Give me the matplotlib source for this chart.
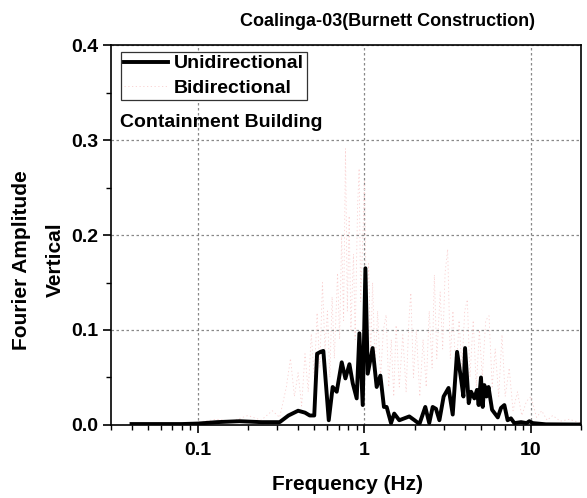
import numpy as np
import matplotlib
matplotlib.use('Agg')
import matplotlib.pyplot as plt
from matplotlib.ticker import FixedLocator, MultipleLocator, FuncFormatter, LogLocator, NullFormatter

plt.rcParams['font.family'] = ['Liberation Sans', 'DejaVu Sans']
plt.rcParams['font.weight'] = 'bold'

# Unidirectional response
uni_freq = [0.04, 0.06, 0.08, 0.10, 0.13, 0.178, 0.24, 0.31, 0.35, 0.40, 0.44, 0.47,
            0.50, 0.52, 0.545, 0.567, 0.611, 0.645, 0.682, 0.731, 0.769, 0.813, 0.851,
            0.899, 0.933, 0.977, 1.014, 1.047, 1.12, 1.185, 1.247, 1.31, 1.36, 1.445,
            1.51, 1.62, 1.86, 2.0, 2.14, 2.32, 2.45, 2.57, 2.69, 2.82, 2.99, 3.20, 3.39,
            3.60, 3.80, 3.93, 4.02, 4.23, 4.37, 4.57, 4.74, 4.85, 5.01, 5.13, 5.25, 5.41,
            5.56, 5.84, 6.32, 6.61, 6.92, 7.24, 7.58, 7.94, 8.72, 9.42, 9.77, 10.25,
            12.3, 20.0]
uni_amp = [0.001, 0.001, 0.001, 0.0015, 0.003, 0.004, 0.003, 0.003, 0.010, 0.015, 0.013,
           0.010, 0.010, 0.075, 0.077, 0.078, 0.005, 0.040, 0.035, 0.066, 0.049, 0.064,
           0.044, 0.028, 0.0965, 0.021, 0.165, 0.054, 0.081, 0.040, 0.052, 0.019, 0.019,
           0.002, 0.012, 0.005, 0.009, 0.005, 0.001, 0.019, 0.002, 0.019, 0.017, 0.005,
           0.030, 0.039, 0.011, 0.077, 0.049, 0.030, 0.081, 0.023, 0.035, 0.028, 0.037,
           0.021, 0.050, 0.019, 0.042, 0.030, 0.040, 0.016, 0.008, 0.018, 0.021, 0.005,
           0.007, 0.002, 0.003, 0.002, 0.004, 0.002, 0.0007, 0.0005]

# Bidirectional response (faint dotted curve, estimated)
bi_freq = [0.04, 0.06, 0.08, 0.10, 0.13, 0.16, 0.20, 0.24, 0.28, 0.31, 0.34, 0.36, 0.38,
           0.40, 0.42, 0.44, 0.46, 0.48, 0.50, 0.52, 0.54, 0.56, 0.58, 0.60, 0.62, 0.64,
           0.66, 0.69, 0.71, 0.73, 0.75, 0.77, 0.79, 0.81, 0.83, 0.86, 0.88, 0.91, 0.93,
           0.95, 0.98, 1.00, 1.03, 1.06, 1.09, 1.12, 1.16, 1.20, 1.25, 1.30, 1.35, 1.40,
           1.45, 1.50, 1.55, 1.62, 1.70, 1.78, 1.85, 1.90, 1.97, 2.05, 2.15, 2.25, 2.35,
           2.45, 2.55, 2.63, 2.72, 2.85, 2.95, 3.05, 3.16, 3.28, 3.40, 3.55, 3.70, 3.85,
           4.00, 4.15, 4.30, 4.50, 4.70, 4.90, 5.10, 5.35, 5.60, 5.85, 6.10, 6.40, 6.70,
           7.00, 7.40, 7.80, 8.30, 8.80, 9.40, 10.0, 10.8, 11.6, 12.5, 13.5, 15.0, 17.0,
           20.0]
bi_amp = [0.001, 0.002, 0.001, 0.003, 0.006, 0.004, 0.010, 0.005, 0.015, 0.008, 0.040,
          0.070, 0.030, 0.055, 0.020, 0.075, 0.035, 0.096, 0.050, 0.118, 0.060, 0.150,
          0.080, 0.120, 0.050, 0.135, 0.070, 0.160, 0.090, 0.200, 0.110, 0.291, 0.120,
          0.220, 0.100, 0.180, 0.090, 0.230, 0.270, 0.130, 0.200, 0.256, 0.120, 0.170,
          0.070, 0.150, 0.060, 0.120, 0.050, 0.100, 0.116, 0.040, 0.090, 0.030, 0.105,
          0.040, 0.095, 0.035, 0.110, 0.139, 0.050, 0.100, 0.030, 0.090, 0.040, 0.120,
          0.060, 0.158, 0.070, 0.140, 0.080, 0.160, 0.185, 0.070, 0.120, 0.050, 0.110,
          0.060, 0.120, 0.132, 0.050, 0.110, 0.040, 0.100, 0.050, 0.110, 0.115, 0.040,
          0.080, 0.030, 0.095, 0.030, 0.060, 0.015, 0.035, 0.010, 0.025, 0.030, 0.008,
          0.015, 0.005, 0.010, 0.004, 0.006, 0.002]

x_ticks = [0.1, 1, 10]
x_ticklabels = ['0.1', '1', '10']

fig = plt.figure(figsize=(5.87, 4.98), dpi=100)
ax = fig.add_axes([0.1886, 0.1466, 0.8014, 0.763])

ax.plot(bi_freq, bi_amp, color='#f9cfcf', lw=0.6, ls=(0, (1.5, 3)),
        label='Bidirectional', zorder=2)
ax.plot(uni_freq, uni_amp, color='black', lw=2.8, solid_joinstyle='round',
        label='Unidirectional', zorder=3)

ax.set_xscale('log')
ax.set_xlim(0.03, 20)
ax.set_ylim(0, 0.4)

ax.xaxis.set_major_locator(FixedLocator(x_ticks))
ax.xaxis.set_major_formatter(FuncFormatter(lambda v, p: x_ticklabels[x_ticks.index(v)] if v in x_ticks else ''))
ax.xaxis.set_minor_locator(LogLocator(base=10, subs=np.arange(2, 10)))
ax.xaxis.set_minor_formatter(NullFormatter())
ax.yaxis.set_major_locator(MultipleLocator(0.1))
ax.yaxis.set_minor_locator(MultipleLocator(0.05))
ax.yaxis.set_major_formatter(FuncFormatter(lambda v, p: f'{v:.1f}'))

ax.tick_params(which='major', direction='out', length=6, width=1.2,
               labelsize=14, pad=3, top=False, right=False)
ax.tick_params(axis='x', which='major', pad=6)
ax.tick_params(which='minor', direction='out', length=3.5, width=1.0,
               top=False, right=False)
for lab in ax.get_xticklabels() + ax.get_yticklabels():
    lab.set_fontweight('bold')

for sp in ax.spines.values():
    sp.set_linewidth(1.2)

ax.grid(True, which='major', color='#888888', ls=(0, (2, 2)), lw=0.9)
ax.set_axisbelow(True)

handles, labels = ax.get_legend_handles_labels()
leg = ax.legend(handles[::-1], labels[::-1], loc='upper left',
                bbox_to_anchor=(0.021, 0.982), borderaxespad=0, fancybox=False,
                edgecolor='#333333', framealpha=1, handlelength=2.3,
                handletextpad=0.3, borderpad=0.15, labelspacing=0.35,
                prop={'size': 14, 'weight': 'bold'})
leg.get_frame().set_linewidth(0.9)

ax.text(0.02, 0.797, 'Containment Building', transform=ax.transAxes,
        fontsize=14, fontweight='bold', ha='left', va='center')

fig.text(387 / 587, 1 - 22 / 498, 'Coalinga-03(Burnett Construction)',
         fontsize=13, fontweight='bold', ha='center', va='center')
fig.text(348 / 587, 1 - 484 / 498, 'Frequency (Hz)', fontsize=15,
         fontweight='bold', ha='center', va='center')
fig.text(22 / 587, 1 - 260 / 498, 'Fourier Amplitude', fontsize=15,
         fontweight='bold', ha='center', va='center', rotation=90)
fig.text(55 / 587, 1 - 260 / 498, 'Vertical', fontsize=15,
         fontweight='bold', ha='center', va='center', rotation=90)

fig.savefig('out.png', dpi=100)
